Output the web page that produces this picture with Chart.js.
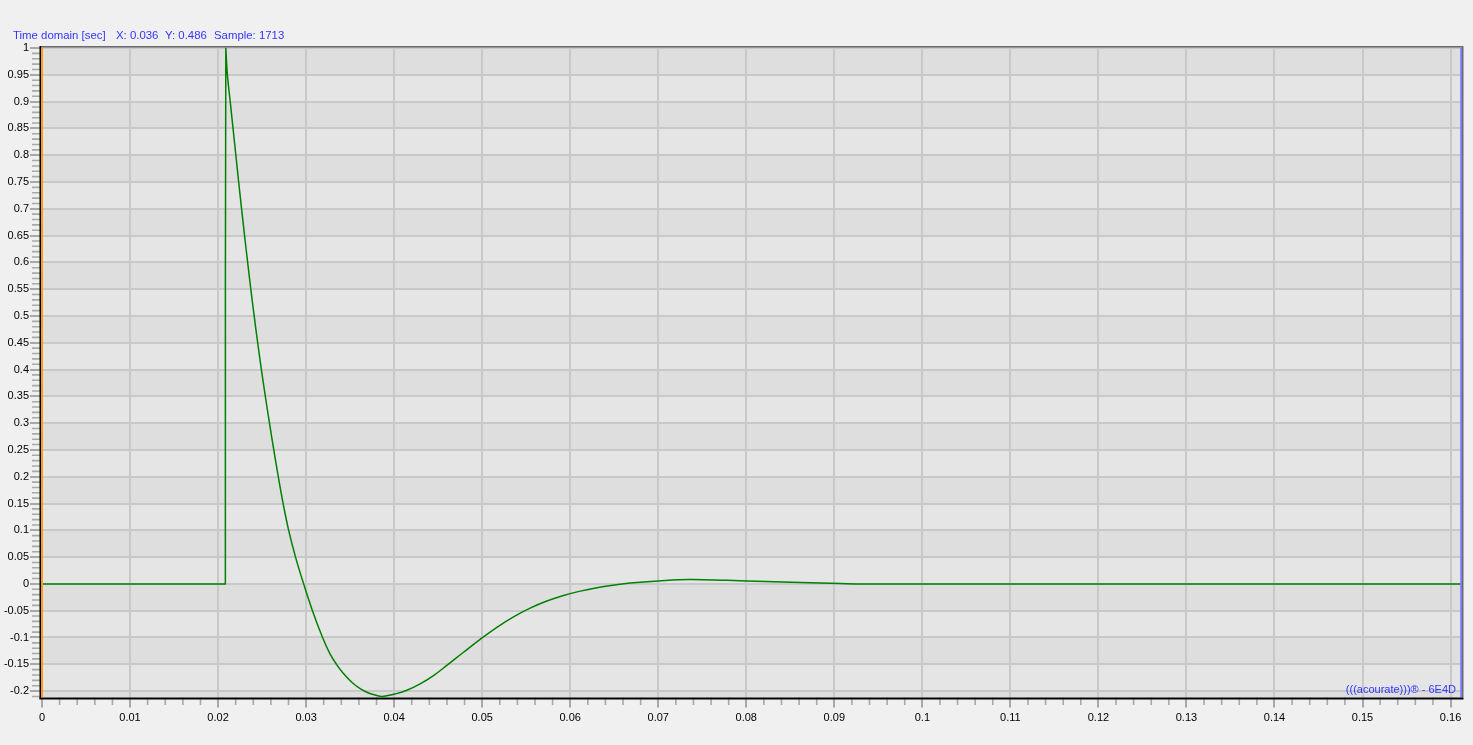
<!DOCTYPE html>
<html>
<head>
<meta charset="utf-8">
<script src="https://cdn.jsdelivr.net/npm/chart.js@4.4.1/dist/chart.umd.min.js"></script>
<style>
  html, body { margin: 0; padding: 0; background: #f0f0f0; }
  #wrap { width: 1473px; height: 745px; position: relative; }
</style>
</head>
<body>
<div id="wrap"><canvas id="c"></canvas></div>
<script>
// ---- data ----
const timeSec = [
  0, 0.02081, 0.02083, 0.02088, 0.02106, 0.02138, 0.02170, 0.02202, 0.02234, 0.02267,
  0.02301, 0.02336, 0.02372, 0.02410, 0.02450, 0.02492, 0.02537, 0.02584, 0.02633, 0.02684,
  0.02739, 0.02802, 0.02880, 0.02972, 0.03072, 0.03187, 0.03273, 0.03349, 0.03424, 0.03519,
  0.03614, 0.03708, 0.03803, 0.03860, 0.03917, 0.04011, 0.04144, 0.04295, 0.04447, 0.04599,
  0.04788, 0.04977, 0.05167, 0.05356, 0.05545, 0.05735, 0.05924, 0.06114, 0.06303, 0.06492,
  0.06682, 0.07000, 0.07350, 0.07784, 0.08216, 0.08614, 0.09068, 0.09318, 0.16130
];
const amplitude = [
  0, 0, 0, 1.0, 0.950, 0.900, 0.850, 0.800, 0.750, 0.700,
  0.650, 0.600, 0.550, 0.500, 0.450, 0.400, 0.350, 0.300, 0.250, 0.200,
  0.150, 0.100, 0.050, 0.0, -0.050, -0.100, -0.131, -0.151, -0.167, -0.1835,
  -0.1955, -0.2036, -0.2083, -0.210, -0.2088, -0.2055, -0.1985, -0.1865, -0.171, -0.152,
  -0.1275, -0.1035, -0.081, -0.0615, -0.0452, -0.032, -0.0216, -0.0135, -0.0072, -0.0024,
  0.0015, 0.0055, 0.0082, 0.0066, 0.0046, 0.0027, 0.0008, 0, 0
];
const xTickValues = [0, 0.01, 0.02, 0.03, 0.04, 0.05, 0.06, 0.07, 0.08, 0.09, 0.10,
                     0.11, 0.12, 0.13, 0.14, 0.15, 0.16];
const yTickValues = [1, 0.95, 0.9, 0.85, 0.8, 0.75, 0.7, 0.65, 0.6, 0.55, 0.5, 0.45, 0.4,
                     0.35, 0.3, 0.25, 0.2, 0.15, 0.1, 0.05, 0, -0.05, -0.1, -0.15, -0.2];
const xRange = [0, 0.1613];
const yRange = [-0.212, 1.001];
const xMinorStep = 0.002;
const yMinorStep = 0.01;
const headerParts = [
  { text: 'Time domain [sec]', x: 13 },
  { text: 'X: 0.036', x: 116 },
  { text: 'Y: 0.486', x: 165 },
  { text: 'Sample: 1713', x: 214 }
];
const watermark = '(((acourate)))\u00AE - 6E4D';

// ---- styling ----
const FONT = "'Liberation Sans', Arial, sans-serif";
const BLUE = '#3434ff';
const BAND_DARK = '#dedede';
const BAND_LIGHT = '#e5e5e5';
const GRID = '#c8c8c8';
const TICK = '#a8a8a8';

Chart.defaults.font.family = FONT;
Chart.defaults.font.size = 11;
Chart.defaults.color = '#000';

const fmt = v => String(parseFloat(Number(v).toFixed(3)));

const decor = {
  id: 'decor',
  beforeDraw(chart) {
    const { ctx, chartArea: a, scales: { y } } = chart;
    ctx.save();
    const edges = [y.max, ...yTickValues, y.min];
    for (let i = 0; i < edges.length - 1; i++) {
      const p1 = y.getPixelForValue(edges[i]);
      const p2 = y.getPixelForValue(edges[i + 1]);
      const k = i - 1;
      ctx.fillStyle = (k < 0 || k % 2 === 0) ? BAND_DARK : BAND_LIGHT;
      ctx.fillRect(a.left, p1, a.right - a.left, p2 - p1);
    }
    ctx.restore();
  },
  afterDraw(chart) {
    const { ctx, chartArea: a, scales: { x, y } } = chart;
    ctx.save();
    // minor ticks
    ctx.strokeStyle = TICK;
    ctx.lineWidth = 1.6;
    ctx.beginPath();
    const nY = Math.round((y.max - y.min) / yMinorStep) + 2;
    for (let i = 0; i <= nY; i++) {
      const v = Math.round((1 - i * yMinorStep) * 1000) / 1000;
      if (v > y.max || v < y.min) continue;
      if (Math.abs(Math.round(v * 20) - v * 20) < 1e-6) continue;
      const py = y.getPixelForValue(v);
      ctx.moveTo(a.left - 10, py);
      ctx.lineTo(a.left, py);
    }
    const nX = Math.round((x.max - x.min) / xMinorStep);
    for (let i = 0; i <= nX; i++) {
      const v = Math.round(i * xMinorStep * 10000) / 10000;
      if (v > x.max) continue;
      if (Math.abs(Math.round(v * 100) - v * 100) < 1e-6) continue;
      const px = x.getPixelForValue(v);
      ctx.moveTo(px, a.bottom);
      ctx.lineTo(px, a.bottom + 7.5);
    }
    ctx.stroke();

    // frame
    ctx.fillStyle = '#6a6a6a';
    ctx.fillRect(a.left - 2, a.top - 1.5, a.right - a.left + 3, 1.5);
    ctx.fillRect(a.right, a.top - 1.5, 1.5, a.bottom - a.top + 1.5);
    ctx.fillStyle = '#7b7bff';
    ctx.fillRect(a.right - 1.8, a.top, 1.8, a.bottom - a.top);
    ctx.fillStyle = '#000';
    ctx.fillRect(a.left - 2.5, a.top - 1.5, 1.7, a.bottom - a.top + 3);
    ctx.fillRect(a.left - 2.5, a.bottom, a.right - a.left + 4, 2);
    ctx.fillStyle = '#ff9a1a';
    ctx.fillRect(a.left - 0.9, a.top, 1.9, a.bottom - a.top);

    // header and watermark
    ctx.fillStyle = BLUE;
    ctx.textBaseline = 'middle';
    ctx.textAlign = 'left';
    ctx.font = '11.4px ' + FONT;
    headerParts.forEach(p => ctx.fillText(p.text, p.x, 36));
    ctx.font = '11px ' + FONT;
    ctx.textAlign = 'right';
    ctx.fillText(watermark, a.right - 6, a.bottom - 8);
    ctx.restore();
  }
};

const points = timeSec.map((t, i) => ({ x: t, y: amplitude[i] }));

new Chart(document.getElementById('c'), {
  type: 'line',
  data: {
    datasets: [{
      data: points,
      borderColor: '#008000',
      borderWidth: 1.5,
      pointRadius: 0,
      fill: false,
      tension: 0.4
    }]
  },
  options: {
    responsive: true,
    maintainAspectRatio: false,
    animation: false,
    events: [],
    layout: { padding: { top: 47.5, right: 11, left: 0, bottom: 0 } },
    plugins: { legend: { display: false }, tooltip: { enabled: false }, title: { display: false } },
    scales: {
      x: {
        type: 'linear',
        min: xRange[0],
        max: xRange[1],
        afterBuildTicks: s => { s.ticks = xTickValues.map(v => ({ value: v })); },
        afterFit: s => { s.height = 47.5; },
        border: { display: false },
        grid: { color: GRID, lineWidth: 2, tickColor: TICK, tickWidth: 2, tickLength: 10 },
        ticks: { callback: v => fmt(v), padding: 4, maxRotation: 0, autoSkip: false, color: '#000' }
      },
      y: {
        type: 'linear',
        min: yRange[0],
        max: yRange[1],
        afterBuildTicks: s => { s.ticks = yTickValues.map(v => ({ value: v })); },
        afterFit: s => { s.width = 42; },
        border: { display: false },
        grid: { color: GRID, lineWidth: 2, tickColor: TICK, tickWidth: 2, tickLength: 12 },
        ticks: { callback: v => fmt(v), padding: 1, autoSkip: false, color: '#000' }
      }
    }
  },
  plugins: [decor]
});
</script>
</body>
</html>
